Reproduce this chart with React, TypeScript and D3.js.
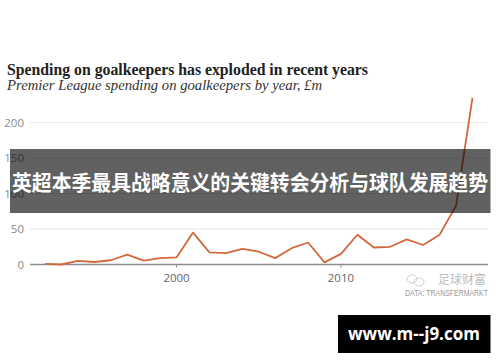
import React from "react";
import * as d3 from "d3";

const years: number[] = [1992, 1993, 1994, 1995, 1996, 1997, 1998, 1999, 2000, 2001, 2002, 2003, 2004, 2005, 2006, 2007, 2008, 2009, 2010, 2011, 2012, 2013, 2014, 2015, 2016, 2017, 2018];
const spending: number[] = [1, 0, 5, 3.5, 6, 14, 5.5, 9, 10, 45, 17, 16, 22, 18, 9, 23, 31, 3, 15, 42, 24, 25, 35.5, 27.5, 42, 83, 235];
const yTicks: number[] = [0, 50, 100, 150, 200];
const xTicks: number[] = [2000, 2010];

const title = "Spending on goalkeepers has exploded in recent years";
const subtitle = "Premier League spending on goalkeepers by year, £m";
const bannerText = "英超本季最具战略意义的关键转会分析与球队发展趋势";
const urlText = "www.m--j9.com";
const sourceText = "DATA: TRANSFERMARKT";
const watermarkText = "足球财富";

export default function App() {
  const W = 500, H = 362;
  const x = d3.scaleLinear().domain([1992, 2018]).range([45, 472.5]);
  const y = d3.scaleLinear().domain([0, 200]).range([264.5, 122.7]);
  const gridX0 = 30, gridX1 = 488;
  const line = d3
    .line<number>()
    .x((_, i) => x(years[i]))
    .y((d) => y(d));
  const pathD = line(spending) || "";

  return (
    <svg
      width={W}
      height={H}
      style={{ position: "absolute", left: 0, top: 0, display: "block", background: "#fff" }}
    >
      <rect x={0} y={0} width={W} height={H} fill="#fff" />
      <text
        x={7}
        y={75}
        fontFamily="'Liberation Serif', 'DejaVu Serif', serif"
        fontWeight="bold"
        fontSize={16}
        fill="#222"
        textLength={361}
        lengthAdjust="spacingAndGlyphs"
      >
        {title}
      </text>
      <text
        x={7}
        y={90}
        fontFamily="'Liberation Serif', 'DejaVu Serif', serif"
        fontStyle="italic"
        fontSize={15}
        fill="#333"
        textLength={315}
        lengthAdjust="spacingAndGlyphs"
      >
        {subtitle}
      </text>

      {yTicks.filter((t) => t > 0).map((t) => (
        <line key={"g" + t} x1={gridX0} x2={gridX1} y1={y(t)} y2={y(t)} stroke="#e6e6e6" strokeWidth={1} />
      ))}
      {yTicks.map((t) => (
        <text
          key={"yl" + t}
          x={24}
          y={y(t) + 4}
          textAnchor="end"
          fontFamily="'Open Sans', 'Liberation Sans', sans-serif"
          fontSize={11.5}
          fill="#8a8a8a"
        >
          {t}
        </text>
      ))}
      <line x1={gridX0} x2={gridX1} y1={y(0)} y2={y(0)} stroke="#8c8c8c" strokeWidth={1.3} />
      {xTicks.map((t) => (
        <g key={"xt" + t}>
          <line x1={x(t)} x2={x(t)} y1={y(0)} y2={y(0) + 3} stroke="#8c8c8c" strokeWidth={1} />
          <text
            x={x(t)}
            y={y(0) + 17}
            textAnchor="middle"
            fontFamily="'Open Sans', 'Liberation Sans', sans-serif"
            fontSize={11.5}
            fill="#666"
          >
            {t}
          </text>
        </g>
      ))}

      <path d={pathD} fill="none" stroke="#d2693c" strokeWidth={1.8} strokeLinejoin="round" />

      {/* watermark */}
      <g opacity={0.55}>
        <ellipse cx={412} cy={279} rx={5} ry={4} fill="none" stroke="#aaa" strokeWidth={1} />
        <ellipse cx={419} cy={282} rx={5} ry={4} fill="none" stroke="#aaa" strokeWidth={1} />
        <text
          x={486}
          y={284}
          textAnchor="end"
          fontFamily="'Noto Sans CJK SC', sans-serif"
          fontSize={12}
          fill="#888"
        >
          {watermarkText}
        </text>
      </g>
      <text
        x={488}
        y={295.5}
        textAnchor="end"
        fontFamily="'Liberation Sans Narrow', 'Liberation Sans', sans-serif"
        fontSize={8.5}
        fill="#999"
        textLength={83}
        lengthAdjust="spacingAndGlyphs"
      >
        {sourceText}
      </text>

      {/* overlay banner */}
      <rect x={10} y={149} width={480.5} height={64} fill="#000" opacity={0.62} />
      <text
        x={250}
        y={190}
        textAnchor="middle"
        fontFamily="'Noto Sans CJK SC', sans-serif"
        fontWeight="bold"
        fontSize={21}
        fill="#fff"
        textLength={476}
        lengthAdjust="spacingAndGlyphs"
      >
        {bannerText}
      </text>

      {/* url banner */}
      <rect x={338} y={315} width={152.5} height={38} fill="#000" />
      <text
        x={414}
        y={340}
        textAnchor="middle"
        fontFamily="'Open Sans', 'DejaVu Sans', sans-serif"
        fontWeight="bold"
        fontSize={17}
        fill="#fff"
      >
        {urlText}
      </text>
    </svg>
  );
}
